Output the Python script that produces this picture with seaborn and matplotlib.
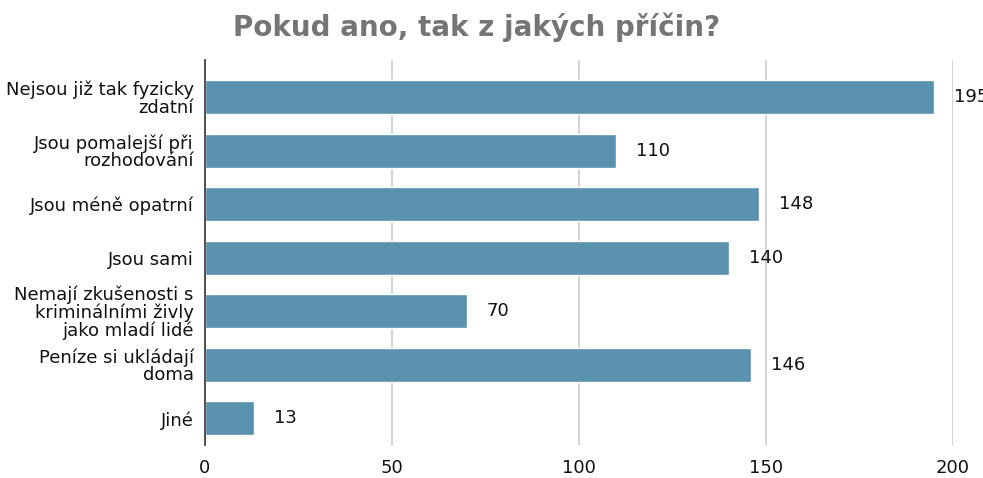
import matplotlib
matplotlib.use("Agg")
import matplotlib.pyplot as plt
import seaborn as sns
import pandas as pd

# data
categories = [
    "Nejsou již tak fyzicky\nzdatní",
    "Jsou pomalejší při\nrozhodování",
    "Jsou méně opatrní",
    "Jsou sami",
    "Nemají zkušenosti s\nkriminálními živly\njako mladí lidé",
    "Peníze si ukládají\ndoma",
    "Jiné",
]
counts = [195, 110, 148, 140, 70, 146, 13]
x_ticks = [0, 50, 100, 150, 200]

df = pd.DataFrame({"category": categories, "count": counts})

sns.set_theme(style="white")
plt.rcParams['font.family'] = ['DejaVu Sans']

fig = plt.figure(figsize=(9.83, 4.78), dpi=100)
ax = fig.add_axes([0.2085, 0.069, 0.761, 0.806])

sns.barplot(data=df, y="category", x="count", color="#5a91ae", saturation=1,
            orient="h", width=0.64, ax=ax, zorder=3)

ax.set_xlim(0, 200)
ax.set_ylim(6.5, -0.7)
ax.set_xticks(x_ticks)
ax.set_xlabel("")
ax.set_ylabel("")
ax.grid(axis="x", color="#cccccc", linewidth=1.2, zorder=0)
ax.tick_params(axis="both", length=0, labelsize=13, colors="#111111")
ax.tick_params(axis="x", pad=10)
ax.tick_params(axis="y", pad=8)
for t in ax.get_yticklabels():
    t.set_linespacing(0.95)

for side in ["top", "right", "bottom"]:
    ax.spines[side].set_visible(False)
ax.spines["left"].set_color("#333333")
ax.spines["left"].set_linewidth(1.2)
ax.spines["left"].set_zorder(4)

# value labels right of each bar (the last one runs off the edge, as in the original)
for i, v in enumerate(counts):
    ax.annotate(str(v), xy=(v, i), xytext=(20, 0), textcoords="offset pixels",
                va="center", ha="left", fontsize=13, color="#111111",
                annotation_clip=False)

fig.text(0.485, 0.944, "Pokud ano, tak z jakých příčin?", ha="center",
         va="center", fontsize=20, fontweight="bold", color="#757575")

fig.savefig("out.png", dpi=100)
